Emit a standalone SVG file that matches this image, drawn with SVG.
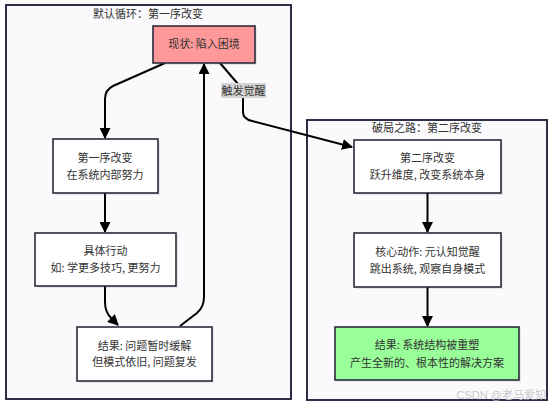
<svg xmlns="http://www.w3.org/2000/svg" width="554" height="407" viewBox="0 0 554 407">
<style>
.cluster{fill:#fafafc;stroke:#2e2e48;stroke-width:2}
.node{stroke:#2a2a3a;stroke-width:1.6}
.plain{fill:#ffffff}
.t{font-family:"Noto Sans CJK SC","Noto Sans",sans-serif;font-size:11px;fill:#333333;text-anchor:middle}
.edge{fill:none;stroke:#000;stroke-width:2}
.shadow{fill:#000;opacity:0.08}
</style>
<defs>
<marker id="arr" viewBox="0 0 10 10" refX="9" refY="5" markerWidth="11" markerHeight="11" markerUnits="userSpaceOnUse" orient="auto">
<path d="M0,0 L10,5 L0,10 z" fill="#000"/>
</marker>
</defs>
<rect width="554" height="407" fill="#ffffff"/>
<g id="cluster-default">
<rect class="cluster" x="6" y="5" width="285" height="394"/>
<text class="t" x="148" y="18">默认循环：第一序改变</text>
</g>
<g id="cluster-break">
<rect class="cluster" x="307" y="120" width="240" height="280"/>
<text class="t" x="427" y="132">破局之路：第二序改变</text>
</g>
<g id="edges">
<path class="edge" d="M165,63 L113,86 Q105,90 105,99 L105,138" marker-end="url(#arr)"/>
<path class="edge" d="M105,193 L105,232" marker-end="url(#arr)"/>
<path class="edge" d="M105,286 L105,302 Q105,312 111,318 L118,325" marker-end="url(#arr)"/>
<path class="edge" d="M180,326 L197,313 Q204,307 204,297 L204,64" marker-end="url(#arr)"/>
<path class="edge" d="M220,63 L238,84"/>
<path class="edge" d="M243,98 L243,112 Q243,119 252,121 L352,147" marker-end="url(#arr)"/>
<g id="edge-label">
<rect x="221" y="83" width="45" height="15" fill="#d4d4d4"/>
<text class="t" x="243.5" y="95">触发觉醒</text>
</g>
</g>
<g id="n-current">
<rect class="shadow" x="155" y="28" width="102" height="37"/>
<rect class="node" x="153" y="26" width="102" height="37" fill="#ff9999"/>
<text class="t" x="204" y="48">现状: 陷入困境</text>
</g>
<g id="n-first">
<rect class="shadow" x="55" y="141" width="105" height="54"/>
<rect class="node plain" x="53" y="139" width="105" height="54"/>
<text class="t" x="105" y="162">第一序改变</text>
<text class="t" x="105" y="179">在系统内部努力</text>
</g>
<g id="n-action">
<rect class="shadow" x="37" y="235" width="141" height="53"/>
<rect class="node plain" x="35" y="233" width="141" height="53"/>
<text class="t" x="105.5" y="255">具体行动</text>
<text class="t" x="105.5" y="272">如: 学更多技巧, 更努力</text>
</g>
<g id="n-result1">
<rect class="shadow" x="79" y="329" width="135" height="54"/>
<rect class="node plain" x="77" y="327" width="135" height="54"/>
<text class="t" x="144.5" y="350">结果: 问题暂时缓解</text>
<text class="t" x="144.5" y="366">但模式依旧, 问题复发</text>
</g>
<g id="n-second">
<rect class="shadow" x="356" y="142" width="147" height="53"/>
<rect class="node plain" x="354" y="140" width="147" height="53"/>
<text class="t" x="427.5" y="162">第二序改变</text>
<text class="t" x="427.5" y="179">跃升维度, 改变系统本身</text>
</g>
<g id="edges2">
<path class="edge" d="M427.5,193 L427.5,232" marker-end="url(#arr)"/>
<path class="edge" d="M427.5,287 L427.5,326" marker-end="url(#arr)"/>
</g>
<g id="n-core">
<rect class="shadow" x="356" y="235" width="147" height="54"/>
<rect class="node plain" x="354" y="233" width="147" height="54"/>
<text class="t" x="427.5" y="256">核心动作: 元认知觉醒</text>
<text class="t" x="427.5" y="273">跳出系统, 观察自身模式</text>
</g>
<g id="n-result2">
<rect class="shadow" x="337" y="329" width="184" height="53"/>
<rect class="node" x="335" y="327" width="184" height="53" fill="#99ff99"/>
<text class="t" x="427" y="349">结果: 系统结构被重塑</text>
<text class="t" x="427" y="367">产生全新的、根本性的解决方案</text>
</g>
<text x="546" y="399" font-family="Liberation Sans,'Noto Sans CJK SC',sans-serif" font-size="11" fill="#c8c8cc" text-anchor="end">CSDN @老马爱知</text>
</svg>
